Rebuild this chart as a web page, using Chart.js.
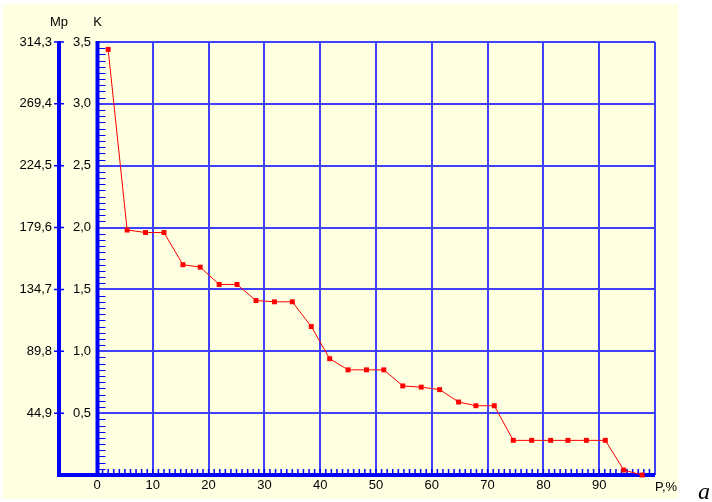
<!DOCTYPE html>
<html>
<head>
<meta charset="utf-8">
<title>K(P)</title>
<script src="https://cdn.jsdelivr.net/npm/chart.js@4.4.0/dist/chart.umd.min.js"></script>
<style>
  body { margin: 0; background: #fff; }
</style>
</head>
<body>
<canvas id="graph" width="712" height="502"></canvas>
<script>
// P, % along the bottom axis and K
var pValues = [2.0, 5.4, 8.7, 12.0, 15.4, 18.5, 21.9, 25.1, 28.5, 31.8, 35.0, 38.4, 41.7, 45.0, 48.3,
               51.4, 54.8, 58.1, 61.4, 64.8, 67.9, 71.2, 74.6, 77.9, 81.3, 84.4, 87.7, 91.1, 94.4, 97.7];
var kValues = [3.44, 1.98, 1.96, 1.96, 1.70, 1.68, 1.54, 1.54, 1.41, 1.40, 1.40, 1.20, 0.94, 0.85, 0.85,
               0.85, 0.72, 0.71, 0.69, 0.59, 0.56, 0.56, 0.28, 0.28, 0.28, 0.28, 0.28, 0.28, 0.04, 0.00];

var pTickLabels = ['0', '10', '20', '30', '40', '50', '60', '70', '80', '90', 'P,%'];
var kTickLabels = ['', '0,5', '1,0', '1,5', '2,0', '2,5', '3,0', '3,5'];
var mpTickLabels = ['', '44,9', '89,8', '134,7', '179,6', '224,5', '269,4', '314,3'];

var BLUE = '#0000ff';
var GRID = '#4040ff';
var FONT = { family: 'Liberation Sans', size: 13 };
var TEXT = '#000000';

Chart.defaults.font.family = 'Liberation Sans';
Chart.defaults.font.size = 13;

/* ======= Background, heavy axes, small ticks, captions ======= */
var frame = {
    id: 'frame',
    beforeDraw: function (chart) {
        var ctx = chart.ctx;
        ctx.save();
        ctx.fillStyle = '#ffffff';
        ctx.fillRect(0, 0, chart.width, chart.height);
        ctx.fillStyle = '#ffffe1';
        ctx.fillRect(3, 4, 675, 495);
        ctx.restore();
    },
    beforeDatasetsDraw: function (chart) {
        var ctx = chart.ctx, a = chart.chartArea;
        var x = chart.scales.x, k = chart.scales.k, mp = chart.scales.mp;
        var axisX = a.left + 0.5, mpX = mp.right - 1;
        ctx.save();
        ctx.strokeStyle = BLUE;

        // small ticks along K (every 0,05) and P (every 1)
        ctx.lineWidth = 1;
        ctx.beginPath();
        for (var i = 1; i < 70; i++) {
            if (i % 10 == 0) continue;
            var y = Math.round(k.getPixelForValue(i * 0.05)) + 0.5;
            ctx.moveTo(axisX, y);
            ctx.lineTo(axisX + 8, y);
        }
        ctx.stroke();
        ctx.lineWidth = 1.5;
        ctx.beginPath();
        for (var j = 1; j < 100; j++) {
            var px = x.getPixelForValue(j);
            ctx.moveTo(px, a.bottom);
            ctx.lineTo(px, a.bottom - 6);
        }
        ctx.stroke();

        // Mp marks crossing its axis
        ctx.lineWidth = 1.5;
        ctx.beginPath();
        for (var m = 1; m < mpTickLabels.length; m++) {
            var my = k.getPixelForValue(m * 0.5);
            ctx.moveTo(mpX - 5, my);
            ctx.lineTo(mpX + 5, my);
        }
        ctx.stroke();

        // thick axis lines
        ctx.lineWidth = 4;
        ctx.beginPath();
        ctx.moveTo(axisX, a.top - 1);
        ctx.lineTo(axisX, a.bottom + 2);
        ctx.moveTo(mpX, a.top - 1);
        ctx.lineTo(mpX, a.bottom + 2);
        ctx.moveTo(mpX - 2, a.bottom);
        ctx.lineTo(a.right, a.bottom);
        ctx.stroke();
        ctx.restore();
    },
    afterDraw: function (chart) {
        var ctx = chart.ctx, a = chart.chartArea;
        var x = chart.scales.x, mp = chart.scales.mp;
        ctx.save();
        ctx.fillStyle = TEXT;
        ctx.font = '13px "Liberation Sans"';
        ctx.textBaseline = 'middle';
        ctx.textAlign = 'center';
        ctx.fillText('Mp', mp.right - 1, 22);
        ctx.fillText('K', a.left + 0.5, 22);
        ctx.textAlign = 'left';
        ctx.fillText(pTickLabels[10], x.getPixelForValue(100), a.bottom + 12);
        ctx.font = 'italic 24px "Liberation Serif"';
        ctx.textBaseline = 'alphabetic';
        ctx.fillText('a', 698, 499);
        ctx.restore();
    }
};

var ctx = document.getElementById('graph');

var graph = new Chart(ctx, {
    type: 'scatter',
    data: {
        datasets: [{
            label: 'K',
            data: pValues.map(function (p, i) { return { x: p, y: kValues[i] }; }),
            xAxisID: 'x',
            yAxisID: 'k',
            showLine: true,
            borderColor: '#ff0000',
            borderWidth: 1,
            pointStyle: 'rect',
            pointRadius: 3.5,
            pointBorderWidth: 0,
            pointBackgroundColor: '#ff0000',
            clip: false
        }]
    },
    options: {
        responsive: false,
        animation: false,
        devicePixelRatio: 1,
        layout: { padding: { top: 42, right: 57, bottom: 0, left: 0 } },
        plugins: { legend: { display: false }, tooltip: { enabled: false } },
        scales: {
            x: {
                type: 'linear', min: 0, max: 100,
                grid: { color: GRID, lineWidth: 2, drawTicks: false },
                border: { display: false },
                ticks: {
                    stepSize: 10, padding: 3, color: TEXT, font: FONT, maxRotation: 0, autoSkip: false,
                    callback: function (v, i) { return i < 10 ? pTickLabels[i] : ''; }
                },
                afterFit: function (s) { s.height = 27; }
            },
            k: {
                type: 'linear', position: 'left', weight: 0, min: 0, max: 3.5,
                grid: { color: GRID, lineWidth: 2, drawTicks: false },
                border: { display: false },
                ticks: {
                    stepSize: 0.5, padding: 6, color: TEXT, font: FONT,
                    callback: function (v, i) { return kTickLabels[i]; }
                },
                afterFit: function (s) { s.width = 37; }
            },
            mp: {
                type: 'linear', position: 'left', weight: 1, min: 0, max: 3.5,
                grid: { display: false, drawTicks: false },
                border: { display: false },
                ticks: {
                    stepSize: 0.5, padding: 8, color: TEXT, font: FONT,
                    callback: function (v, i) { return mpTickLabels[i]; }
                },
                afterFit: function (s) { s.width = 60; }
            }
        }
    },
    plugins: [frame]
});
</script>
</body>
</html>
